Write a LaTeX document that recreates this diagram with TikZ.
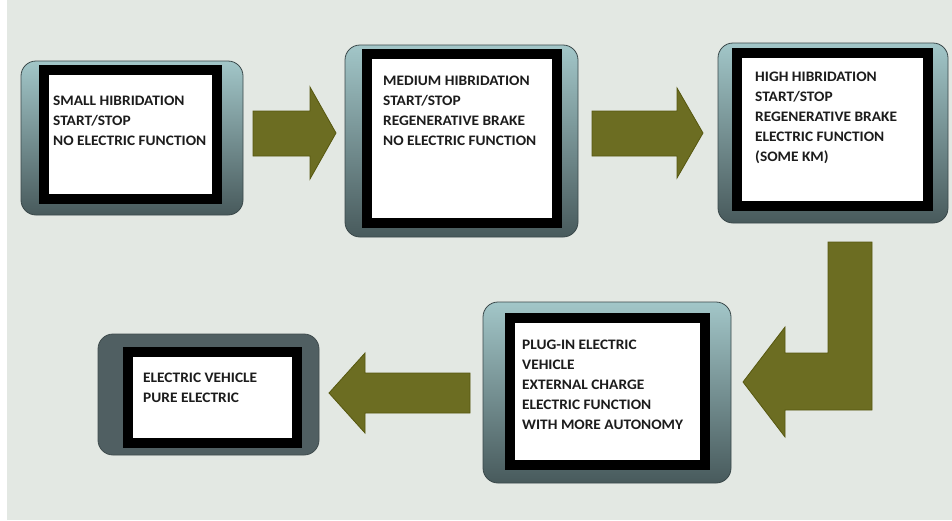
\documentclass[tikz,border=0pt]{standalone}
\usepackage{fontspec}
\setmainfont{Carlito}[FakeStretch=1.06]
\usetikzlibrary{fit}
\definecolor{bgcol}{HTML}{E3E8E3}
\definecolor{tealtop}{HTML}{A2C6C8}
\definecolor{tealbot}{HTML}{485A5C}
\definecolor{slate}{HTML}{505F62}
\definecolor{olivefill}{HTML}{6C6D22}
\definecolor{olivedraw}{HTML}{56570F}
\definecolor{txt}{HTML}{1C1C1C}
\begin{document}
\begin{tikzpicture}[x=1pt,y=-1pt,
  outerbox/.style={rounded corners=15pt, inner sep=0pt, draw=tealbot!80!black, line width=0.8pt, top color=tealtop, bottom color=tealbot},
  darkbox/.style={rounded corners=15pt, inner sep=0pt, draw=slate!80!black, line width=0.8pt, fill=slate},
  framebox/.style={inner sep=0pt, draw=black, fill=white, line width=10pt},
  label/.style={anchor=north west, inner sep=0pt, align=left, text=txt, font=\fontsize{14.5}{20}\selectfont\bfseries},
  blockarrow/.style={fill=olivefill, draw=olivedraw, line width=0.8pt, line join=miter}]
\useasboundingbox (0,0) rectangle (952,520);
\fill[bgcol] (0,0) rectangle (952,520);
\fill[white] (0,0) rectangle (7,520);

% box 1
\node[outerbox, fit={(21,61)(243,215)}] (b1) {};
\node[framebox, fit={(44,70)(216.5,199)}] (f1) {};
\node[label] (t1) at (53,96) {SMALL HIBRIDATION\\START/STOP\\NO ELECTRIC FUNCTION};

% box 2
\node[outerbox, fit={(345,45)(578,237)}] (b2) {};
\node[framebox, fit={(367,54)(557,223)}] (f2) {};
\node[label] (t2) at (383,76) {MEDIUM HIBRIDATION\\START/STOP\\REGENERATIVE BRAKE\\NO ELECTRIC FUNCTION};

% box 3
\node[outerbox, fit={(718,43)(948,223)}] (b3) {};
\node[framebox, fit={(737,52.5)(927.5,206)}] (f3) {};
\node[label] (t3) at (755,72) {HIGH HIBRIDATION\\START/STOP\\REGENERATIVE BRAKE\\ELECTRIC FUNCTION\\(SOME KM)};

% box 4
\node[outerbox, fit={(483,302)(731,483)}] (b4) {};
\node[framebox, fit={(510,317.5)(705,465)}] (f4) {};
\node[label] (t4) at (522,340) {PLUG-IN ELECTRIC\\VEHICLE\\EXTERNAL CHARGE\\ELECTRIC FUNCTION\\WITH MORE AUTONOMY};

% box 5
\node[darkbox, fit={(98,334)(319,455)}] (b5) {};
\node[framebox, fit={(128,352)(297,443)}] (f5) {};
\node[label] (t5) at (143,373) {ELECTRIC VEHICLE\\PURE ELECTRIC};

% arrows
\draw[blockarrow] (253,111) -- (310,111) -- (310,87) -- (336,133) -- (310,179) -- (310,156) -- (253,156) -- cycle;
\draw[blockarrow] (592,111) -- (677,111) -- (677,88) -- (703,133) -- (677,178) -- (677,156) -- (592,156) -- cycle;
\draw[blockarrow] (828,242) -- (872,242) -- (872,410) -- (785,410) -- (785,437) -- (743,382) -- (785,327) -- (785,353) -- (828,353) -- cycle;
\draw[blockarrow] (470,373) -- (365,373) -- (365,353) -- (329,393) -- (365,433) -- (365,413) -- (470,413) -- cycle;
\end{tikzpicture}
\end{document}
